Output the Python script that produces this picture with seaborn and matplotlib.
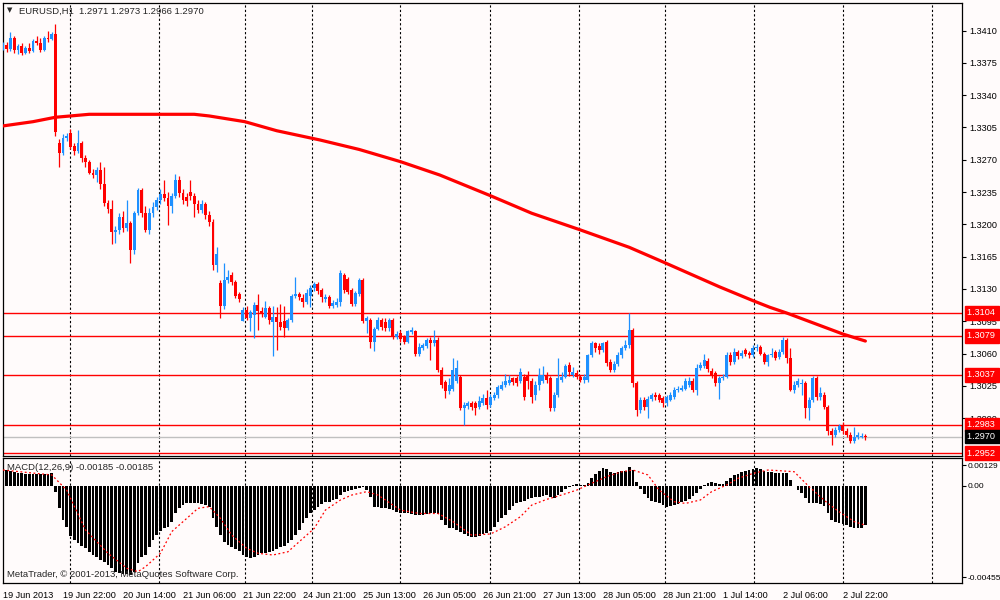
import numpy as np
import pandas as pd
import matplotlib
matplotlib.use("Agg")
import matplotlib.pyplot as plt
from matplotlib import transforms
import seaborn as sns

# EURUSD H1 candles, 19 Jun 2013 06:00 .. 3 Jul 2013
opens = [
    1.3391, 1.3394, 1.3390, 1.3402, 1.3389, 1.3393, 1.3386, 1.3391, 1.3388, 1.3399,
    1.3396, 1.3389, 1.3402, 1.3401, 1.3406,
    1.3288, 1.3277, 1.3293, 1.3299, 1.3285, 1.3279, 1.3288, 1.3272, 1.3267, 1.3256,
    1.3253, 1.3259, 1.3244, 1.3223, 1.3217, 1.3192, 1.3194, 1.3208, 1.3196, 1.3201,
    1.3172, 1.3212, 1.3237, 1.3212, 1.3194, 1.3212, 1.3219, 1.3226, 1.3233, 1.3228,
    1.3220, 1.3231, 1.3248, 1.3234, 1.3230, 1.3235, 1.3231, 1.3222, 1.3216, 1.3222,
    1.3210, 1.3203, 1.3156,
    1.3136, 1.3111, 1.3140, 1.3145, 1.3138, 1.3124, 1.3095, 1.3107, 1.3099, 1.3102,
    1.3113, 1.3106, 1.3100, 1.3109, 1.3094, 1.3100, 1.3094, 1.3095, 1.3088, 1.3096,
    1.3122, 1.3124, 1.3120, 1.3116, 1.3122, 1.3131, 1.3135, 1.3129, 1.3119, 1.3121,
    1.3111, 1.3113, 1.3116, 1.3145, 1.3141, 1.3129, 1.3114, 1.3125, 1.3140, 1.3095,
    1.3096, 1.3073, 1.3087, 1.3096, 1.3094, 1.3088, 1.3096, 1.3078, 1.3082, 1.3078,
    1.3073, 1.3083, 1.3084, 1.3060, 1.3066, 1.3068, 1.3075, 1.3071, 1.3075, 1.3042,
    1.3029, 1.3019,
    1.3022, 1.3030, 1.3035, 1.3001, 1.3003, 1.3006, 1.3006, 1.3002, 1.3006, 1.3012,
    1.3004, 1.3012, 1.3015, 1.3022, 1.3026, 1.3028, 1.3033, 1.3033, 1.3030, 1.3035,
    1.3037, 1.3030, 1.3015, 1.3026, 1.3030, 1.3037, 1.3033, 1.3001, 1.3015, 1.3031,
    1.3035, 1.3048, 1.3037, 1.3039, 1.3035, 1.3031, 1.3031, 1.3058, 1.3071, 1.3068,
    1.3064, 1.3073, 1.3051, 1.3042, 1.3049, 1.3058, 1.3066, 1.3069, 1.3086, 1.3028,
    1.2999, 1.3010, 1.3002, 1.3011, 1.3015,
    1.3015, 1.3012, 1.3006, 1.3010, 1.3013, 1.3020, 1.3021, 1.3022, 1.3026, 1.3030,
    1.3020, 1.3044, 1.3046, 1.3052, 1.3041, 1.3039, 1.3028, 1.3033, 1.3035, 1.3058,
    1.3051, 1.3062, 1.3057, 1.3064, 1.3061, 1.3058, 1.3066, 1.3067, 1.3060, 1.3051,
    1.3058, 1.3062, 1.3056, 1.3062, 1.3075, 1.3055, 1.3021, 1.3026, 1.3027, 1.3028,
    1.3001, 1.3010, 1.3033, 1.3013, 1.3015, 1.3002, 1.2976, 1.2972, 1.2977, 1.2981,
    1.2976, 1.2972, 1.2965, 1.2969, 1.2969, 1.2971,
]
closes = [
    1.3394, 1.3390, 1.3402, 1.3389, 1.3393, 1.3386, 1.3391, 1.3388, 1.3399, 1.3396,
    1.3389, 1.3402, 1.3401, 1.3406, 1.3300,
    1.3277, 1.3293, 1.3296, 1.3284, 1.3279, 1.3288, 1.3272, 1.3267, 1.3256, 1.3253,
    1.3259, 1.3244, 1.3223, 1.3217, 1.3192, 1.3194, 1.3208, 1.3196, 1.3201, 1.3172,
    1.3212, 1.3237, 1.3212, 1.3194, 1.3212, 1.3219, 1.3226, 1.3233, 1.3228, 1.3220,
    1.3231, 1.3248, 1.3234, 1.3226, 1.3225, 1.3231, 1.3222, 1.3216, 1.3222, 1.3210,
    1.3203, 1.3156, 1.3168,
    1.3111, 1.3140, 1.3143, 1.3138, 1.3122, 1.3119, 1.3107, 1.3099, 1.3105, 1.3113,
    1.3106, 1.3104, 1.3109, 1.3096, 1.3100, 1.3094, 1.3089, 1.3088, 1.3096, 1.3122,
    1.3124, 1.3121, 1.3116, 1.3126, 1.3131, 1.3135, 1.3128, 1.3121, 1.3121, 1.3111,
    1.3115, 1.3116, 1.3147, 1.3129, 1.3127, 1.3114, 1.3126, 1.3140, 1.3095, 1.3099,
    1.3073, 1.3087, 1.3096, 1.3089, 1.3088, 1.3096, 1.3078, 1.3081, 1.3076, 1.3073,
    1.3084, 1.3086, 1.3060, 1.3067, 1.3069, 1.3075, 1.3071, 1.3075, 1.3042, 1.3026,
    1.3019, 1.3026,
    1.3042, 1.3044, 1.3001, 1.3004, 1.3006, 1.3002, 1.3001, 1.3008, 1.3012, 1.3004,
    1.3013, 1.3015, 1.3024, 1.3026, 1.3030, 1.3031, 1.3029, 1.3028, 1.3040, 1.3013,
    1.3030, 1.3013, 1.3026, 1.3037, 1.3037, 1.3031, 1.3001, 1.3015, 1.3033, 1.3035,
    1.3046, 1.3040, 1.3040, 1.3035, 1.3031, 1.3035, 1.3058, 1.3071, 1.3066, 1.3064,
    1.3071, 1.3050, 1.3042, 1.3049, 1.3058, 1.3066, 1.3069, 1.3086, 1.3028, 1.2999,
    1.3010, 1.3002, 1.3011, 1.3015, 1.3013,
    1.3010, 1.3006, 1.3013, 1.3015, 1.3021, 1.3022, 1.3023, 1.3030, 1.3030, 1.3020,
    1.3044, 1.3048, 1.3053, 1.3043, 1.3037, 1.3028, 1.3033, 1.3035, 1.3058, 1.3051,
    1.3062, 1.3057, 1.3061, 1.3060, 1.3058, 1.3066, 1.3067, 1.3060, 1.3051, 1.3058,
    1.3060, 1.3055, 1.3062, 1.3075, 1.3055, 1.3021, 1.3026, 1.3030, 1.3028, 1.3001,
    1.3010, 1.3033, 1.3013, 1.3017, 1.3002, 1.2976, 1.2972, 1.2977, 1.2981, 1.2976,
    1.2972, 1.2965, 1.2970, 1.2972, 1.2971, 1.2970,
]
highs = [
    1.3397, 1.3398, 1.3408, 1.3404, 1.3395, 1.3396, 1.3393, 1.3396, 1.3401, 1.3404,
    1.3402, 1.3404, 1.3410, 1.3408, 1.3417,
    1.3292, 1.3298, 1.3299, 1.3303, 1.3288, 1.3302, 1.3290, 1.3275, 1.3270, 1.3260,
    1.3262, 1.3268, 1.3262, 1.3226, 1.3226, 1.3198, 1.3212, 1.3214, 1.3226, 1.3204,
    1.3214, 1.3239, 1.3239, 1.3220, 1.3218, 1.3224, 1.3230, 1.3238, 1.3248, 1.3235,
    1.3234, 1.3255, 1.3252, 1.3238, 1.3234, 1.3248, 1.3234, 1.3226, 1.3226, 1.3224,
    1.3214, 1.3206, 1.3175,
    1.3140, 1.3158, 1.3150, 1.3148, 1.3140, 1.3127, 1.3110, 1.3112, 1.3107, 1.3116,
    1.3125, 1.3110, 1.3117, 1.3112, 1.3112, 1.3110, 1.3114, 1.3112, 1.3098, 1.3124,
    1.3143, 1.3127, 1.3124, 1.3130, 1.3134, 1.3138, 1.3137, 1.3131, 1.3124, 1.3123,
    1.3118, 1.3120, 1.3151, 1.3147, 1.3143, 1.3131, 1.3128, 1.3142, 1.3142, 1.3101,
    1.3098, 1.3089, 1.3100, 1.3098, 1.3098, 1.3098, 1.3098, 1.3084, 1.3085, 1.3080,
    1.3086, 1.3089, 1.3086, 1.3071, 1.3071, 1.3077, 1.3078, 1.3085, 1.3078, 1.3045,
    1.3031, 1.3033,
    1.3055, 1.3053, 1.3037, 1.3007, 1.3009, 1.3009, 1.3008, 1.3014, 1.3016, 1.3020,
    1.3016, 1.3018, 1.3026, 1.3030, 1.3038, 1.3037, 1.3035, 1.3036, 1.3044, 1.3038,
    1.3041, 1.3033, 1.3030, 1.3044, 1.3046, 1.3040, 1.3036, 1.3018, 1.3055, 1.3040,
    1.3049, 1.3051, 1.3045, 1.3042, 1.3037, 1.3038, 1.3060, 1.3074, 1.3073, 1.3071,
    1.3073, 1.3075, 1.3054, 1.3052, 1.3062, 1.3068, 1.3075, 1.3104, 1.3088, 1.3030,
    1.3013, 1.3013, 1.3014, 1.3017, 1.3018,
    1.3017, 1.3014, 1.3015, 1.3018, 1.3024, 1.3025, 1.3026, 1.3034, 1.3035, 1.3033,
    1.3049, 1.3051, 1.3059, 1.3055, 1.3044, 1.3041, 1.3036, 1.3038, 1.3062, 1.3062,
    1.3066, 1.3064, 1.3064, 1.3066, 1.3063, 1.3069, 1.3070, 1.3069, 1.3062, 1.3060,
    1.3066, 1.3064, 1.3065, 1.3078, 1.3077, 1.3066, 1.3030, 1.3034, 1.3032, 1.3030,
    1.3013, 1.3036, 1.3036, 1.3024, 1.3018, 1.3004, 1.2979, 1.2980, 1.2984, 1.2986,
    1.2979, 1.2975, 1.2980, 1.2975, 1.2974, 1.2973,
]
lows = [
    1.3389, 1.3387, 1.3388, 1.3386, 1.3385, 1.3383, 1.3385, 1.3386, 1.3387, 1.3394,
    1.3387, 1.3388, 1.3398, 1.3400, 1.3296,
    1.3262, 1.3275, 1.3290, 1.3282, 1.3275, 1.3277, 1.3268, 1.3262, 1.3254, 1.3250,
    1.3246, 1.3238, 1.3220, 1.3212, 1.3179, 1.3180, 1.3190, 1.3192, 1.3193, 1.3158,
    1.3168, 1.3210, 1.3208, 1.3192, 1.3190, 1.3208, 1.3215, 1.3222, 1.3225, 1.3199,
    1.3212, 1.3228, 1.3230, 1.3222, 1.3220, 1.3226, 1.3208, 1.3212, 1.3212, 1.3206,
    1.3198, 1.3150, 1.3148,
    1.3098, 1.3108, 1.3136, 1.3134, 1.3120, 1.3116, 1.3095, 1.3096, 1.3084, 1.3077,
    1.3085, 1.3100, 1.3098, 1.3092, 1.3057, 1.3064, 1.3085, 1.3078, 1.3085, 1.3094,
    1.3120, 1.3118, 1.3110, 1.3114, 1.3110, 1.3128, 1.3125, 1.3116, 1.3116, 1.3109,
    1.3109, 1.3110, 1.3112, 1.3126, 1.3124, 1.3111, 1.3112, 1.3122, 1.3093, 1.3082,
    1.3066, 1.3063, 1.3085, 1.3086, 1.3084, 1.3084, 1.3076, 1.3076, 1.3073, 1.3070,
    1.3071, 1.3081, 1.3057, 1.3057, 1.3064, 1.3066, 1.3053, 1.3068, 1.3040, 1.3023,
    1.3012, 1.3016,
    1.3019, 1.3028, 1.2999, 1.2983, 1.3000, 1.2999, 1.2993, 1.3000, 1.3004, 1.3000,
    1.3002, 1.3010, 1.3012, 1.3020, 1.3024, 1.3026, 1.3026, 1.3025, 1.3028, 1.3010,
    1.3022, 1.3006, 1.3010, 1.3020, 1.3028, 1.3028, 1.2998, 1.2998, 1.3013, 1.3029,
    1.3033, 1.3036, 1.3035, 1.3032, 1.3029, 1.3028, 1.3029, 1.3056, 1.3062, 1.3059,
    1.3062, 1.3047, 1.3040, 1.3040, 1.3047, 1.3055, 1.3064, 1.3066, 1.3024, 1.2992,
    1.2996, 1.2999, 1.2990, 1.3009, 1.3010,
    1.3007, 1.3002, 1.3003, 1.3008, 1.3011, 1.3018, 1.3019, 1.3020, 1.3024, 1.3018,
    1.3015, 1.3042, 1.3044, 1.3040, 1.3034, 1.3025, 1.3011, 1.3031, 1.3033, 1.3048,
    1.3049, 1.3054, 1.3055, 1.3057, 1.3055, 1.3056, 1.3063, 1.3058, 1.3049, 1.3047,
    1.3056, 1.3053, 1.3054, 1.3060, 1.3050, 1.3019, 1.3017, 1.3024, 1.3015, 1.2990,
    1.2988, 1.3007, 1.3010, 1.3010, 1.3000, 1.2972, 1.2961, 1.2969, 1.2975, 1.2973,
    1.2970, 1.2963, 1.2963, 1.2967, 1.2968, 1.2966,
]

# moving average (red thick line), read at these bars
ma_bar = [0, 8, 14, 18, 23, 51, 55, 64.5, 73, 84.5, 95, 106, 116.5, 130, 141, 153.5,
          167, 176.5, 191, 200, 204.5, 209, 224, 230]
ma_val = [1.33066, 1.33112, 1.33160, 1.33174, 1.33192, 1.33192, 1.33174, 1.33112, 1.33014,
          1.32914, 1.32811, 1.32679, 1.32534, 1.32310, 1.32120, 1.31946, 1.31751, 1.31584,
          1.31324, 1.31173, 1.31101, 1.31039, 1.30811, 1.30735]

# MACD(12,26,9) main histogram, one value per bar
macd_hist = [
    0.00073, 0.00073, 0.00068, 0.00064, 0.00060, 0.00058, 0.00056, 0.00055, 0.00055, 0.00054,
    0.00054, 0.00054, 0.00056, 0.00060, -0.00028, -0.00106, -0.00161, -0.00192, -0.00235, -0.00254,
    -0.00270, -0.00282, -0.00293, -0.00309, -0.00324, -0.00335, -0.00347, -0.00355, -0.00371, -0.00386,
    -0.00402, -0.00410, -0.00413, -0.00414, -0.00417, -0.00402, -0.00363, -0.00332, -0.00324, -0.00285,
    -0.00254, -0.00231, -0.00210, -0.00200, -0.00192, -0.00168, -0.00130, -0.00106, -0.00091, -0.00083,
    -0.00083, -0.00080, -0.00083, -0.00086, -0.00091, -0.00098, -0.00153, -0.00192, -0.00231, -0.00262,
    -0.00277, -0.00288, -0.00298, -0.00304, -0.00324, -0.00332, -0.00340, -0.00332, -0.00324, -0.00316,
    -0.00313, -0.00309, -0.00304, -0.00298, -0.00288, -0.00282, -0.00270, -0.00254, -0.00231, -0.00207,
    -0.00176, -0.00153, -0.00130, -0.00114, -0.00098, -0.00086, -0.00075, -0.00075, -0.00067, -0.00064,
    -0.00044, -0.00028, -0.00024, -0.00021, -0.00017, -0.00013, -0.00005, -0.00021, -0.00052, -0.00098,
    -0.00101, -0.00106, -0.00106, -0.00111, -0.00114, -0.00122, -0.00126, -0.00130, -0.00130, -0.00133,
    -0.00137, -0.00137, -0.00137, -0.00133, -0.00130, -0.00126, -0.00133, -0.00161, -0.00184, -0.00200,
    -0.00200, -0.00207, -0.00215, -0.00226, -0.00235, -0.00238, -0.00238, -0.00235, -0.00226, -0.00220,
    -0.00210, -0.00192, -0.00168, -0.00153, -0.00137, -0.00114, -0.00095, -0.00083, -0.00075, -0.00070,
    -0.00063, -0.00057, -0.00053, -0.00052, -0.00047, -0.00044, -0.00055, -0.00057, -0.00044, -0.00028,
    -0.00014, -0.00005, 0.00004, 0.00006, 0.00004, 0.00003, 0.00011, 0.00034, 0.00054, 0.00068,
    0.00082, 0.00080, 0.00065, 0.00057, 0.00063, 0.00070, 0.00070, 0.00088, 0.00073, 0.00018,
    -0.00017, -0.00039, -0.00060, -0.00074, -0.00078, -0.00083, -0.00092, -0.00098, -0.00097, -0.00092,
    -0.00086, -0.00077, -0.00070, -0.00063, -0.00049, -0.00033, -0.00017, 0.00002, 0.00014, 0.00016,
    0.00012, 0.00008, 0.00008, 0.00023, 0.00034, 0.00048, 0.00056, 0.00062, 0.00067, 0.00071,
    0.00080, 0.00084, 0.00076, 0.00070, 0.00065, 0.00062, 0.00060, 0.00059, 0.00060, 0.00057,
    0.00026, -0.00003, -0.00019, -0.00033, -0.00060, -0.00081, -0.00080, -0.00080, -0.00086, -0.00095,
    -0.00130, -0.00161, -0.00168, -0.00173, -0.00179, -0.00186, -0.00192, -0.00200, -0.00200, -0.00196,
    -0.00185,
]

# MACD signal line (red dotted), read at these bars
sig_bar = [0, 13, 17, 22, 28, 33, 36, 38, 42, 45, 49, 52, 55, 58, 61, 65, 68, 72, 76, 79,
           83, 86, 90, 93, 97, 100, 106, 111, 116, 120, 125, 130, 134, 138, 141, 145, 148, 153,
           156, 161, 165, 168, 172, 175, 179, 182, 186, 189, 193, 196, 200, 204, 207, 211, 215,
           220, 223, 227, 230]
sig_val = [0.00073, 0.00050, -0.00021, -0.00207, -0.00316, -0.00386, -0.00402, -0.00379, -0.00316,
           -0.00215, -0.00153, -0.00106, -0.00098, -0.00153, -0.00231, -0.00293, -0.00316, -0.00324,
           -0.00309, -0.00262, -0.00200, -0.00114, -0.00067, -0.00044, -0.00028, -0.00044, -0.00114,
           -0.00130, -0.00130, -0.00168, -0.00231, -0.00226, -0.00192, -0.00145, -0.00091, -0.00064,
           -0.00049, -0.00021, 0.00003, 0.00042, 0.00065, 0.00073, 0.00050, -0.00021, -0.00075,
           -0.00083, -0.00067, -0.00028, 0.00003, 0.00034, 0.00057, 0.00073, 0.00070, 0.00065,
           -0.00005, -0.00083, -0.00122, -0.00168, -0.00185]

price_ticks = [1.3410, 1.3375, 1.3340, 1.3305, 1.3270, 1.3235, 1.3200, 1.3165,
               1.3130, 1.3095, 1.3060, 1.3025, 1.2990]
red_levels = [1.3104, 1.3079, 1.3037, 1.2983, 1.2952]
bid_level = 1.2970

time_labels = ["19 Jun 2013", "19 Jun 22:00", "20 Jun 14:00", "21 Jun 06:00", "21 Jun 22:00",
               "24 Jun 21:00", "25 Jun 13:00", "26 Jun 05:00", "26 Jun 21:00", "27 Jun 13:00",
               "28 Jun 05:00", "28 Jun 21:00", "1 Jul 14:00", "2 Jul 06:00", "2 Jul 22:00"]
label_every = 16
grid_bars = [17.9, 41.6, 64.5, 82.4, 105.9, 129.9, 153.6, 176.5, 200.3, 224.0, 247.7]

n = len(closes)
assert len(opens) == n and len(highs) == n and len(lows) == n and len(macd_hist) == n

df = pd.DataFrame({"o": opens, "h": highs, "l": lows, "c": closes})
df["bar"] = np.arange(n)
df["up"] = df["c"] >= df["o"]
ma = pd.DataFrame({"bar": ma_bar, "ma": ma_val})
sig = pd.DataFrame({"bar": sig_bar, "sig": sig_val})

# ---- style
sns.set_style("white")
bg = "#FFFBFB"
plt.rcParams["font.family"] = ["Liberation Sans", "DejaVu Sans"]
plt.rcParams["font.size"] = 6.6
UP = "#1E90FF"
DOWN = "#FF0000"

fig = plt.figure(figsize=(10, 6), dpi=100, facecolor=bg)
ax = fig.add_axes([0.0025, 0.2407, 0.96, 0.7543], facecolor=bg)
ax2 = fig.add_axes([0.0025, 0.0283, 0.96, 0.2083], facecolor=bg)

xlim = (-0.13, 255.9)

# ---- price panel
for g in grid_bars:
    ax.axvline(g, color="black", lw=0.8, ls=(0, (2, 2)), zorder=1)
    ax2.axvline(g, color="black", lw=0.8, ls=(0, (2, 2)), zorder=1)

for lv in red_levels:
    ax.axhline(lv, color="#FF0000", lw=1.0, zorder=2)
ax.axhline(bid_level, color="#C0C0C0", lw=1.0, zorder=2)

colors = np.where(df["up"], UP, DOWN)
ax.vlines(df["bar"], df["l"], df["h"], colors=colors, lw=0.9, zorder=3)
body_lo = df[["o", "c"]].min(axis=1)
body_h = (df["c"] - df["o"]).abs().clip(lower=0.00003)
ax.bar(df["bar"], body_h, bottom=body_lo, width=0.78, color=colors, lw=0, zorder=4)

sns.lineplot(data=ma, x="bar", y="ma", ax=ax, color="#FF0000", lw=2.3, zorder=5)

ax.set_xlim(*xlim)
ax.set_ylim(1.29494, 1.34398)
ax.set_xlabel("")
ax.set_ylabel("")
ax.set_xticks([])
ax.yaxis.tick_right()
ax.set_yticks(price_ticks)
ax.set_yticklabels([f"{v:.4f}" for v in price_ticks])
ax.tick_params(axis="y", direction="out", length=3, width=0.8, pad=2, colors="black", labelsize=6.6)
for s in ax.spines.values():
    s.set_color("black")
    s.set_linewidth(0.9)

lab_tr = transforms.blended_transform_factory(ax.transAxes, ax.transData)
for lv in red_levels:
    ax.text(1.0045, lv, f"{lv:.4f} ", transform=lab_tr, ha="left", va="center", color="white",
            fontsize=6.6, zorder=10, clip_on=False,
            bbox=dict(boxstyle="square,pad=0.25", fc="#FF0000", ec="#FF0000"))
ax.text(1.0045, bid_level, f"{bid_level:.4f} ", transform=lab_tr, ha="left", va="center",
        color="white", fontsize=6.6, zorder=10, clip_on=False,
        bbox=dict(boxstyle="square,pad=0.25", fc="black", ec="black"))

ax.text(0.005, 0.990, "\u25bc", transform=ax.transAxes, ha="left", va="top", fontsize=5,
        family=["DejaVu Sans"])
ax.text(0.017, 0.992, "EURUSD,H1  1.2971 1.2973 1.2966 1.2970", transform=ax.transAxes,
        ha="left", va="top", fontsize=6.8)

# ---- MACD panel
ax2.bar(df["bar"], macd_hist, width=0.72, color="black", lw=0, zorder=3)
sns.lineplot(data=sig, x="bar", y="sig", ax=ax2, color="#FF0000", lw=0.9,
             linestyle=(0, (1.5, 2)), zorder=4)
ax2.set_xlim(*xlim)
ax2.set_ylim(-0.00455, 0.00129)
ax2.set_xlabel("")
ax2.set_ylabel("")
ax2.yaxis.tick_right()
ax2.set_yticks([0.00096, 0.0, -0.00427])
ax2.set_yticklabels(["0.00129", "0.00", "-0.00455"])
ax2.tick_params(axis="y", direction="out", length=3, width=0.8, pad=1, colors="black", labelsize=6.0)
tick_pos = [i * label_every - 0.08 for i in range(len(time_labels))]
ax2.set_xticks(tick_pos)
ax2.set_xticklabels(time_labels, ha="left")
ax2.tick_params(axis="x", direction="out", length=4, width=0.8, pad=2, colors="black", labelsize=6.6)
for s in ax2.spines.values():
    s.set_color("black")
    s.set_linewidth(0.9)

ax2.text(0.005, 0.96, "MACD(12,26,9) -0.00185 -0.00185", transform=ax2.transAxes,
         ha="left", va="top", fontsize=6.8, zorder=6)
ax2.text(0.005, 0.03, "MetaTrader, \u00a9 2001-2013, MetaQuotes Software Corp.",
         transform=ax2.transAxes, ha="left", va="bottom", fontsize=6.8, zorder=6)

fig.savefig("out.png", dpi=100, facecolor=bg)
